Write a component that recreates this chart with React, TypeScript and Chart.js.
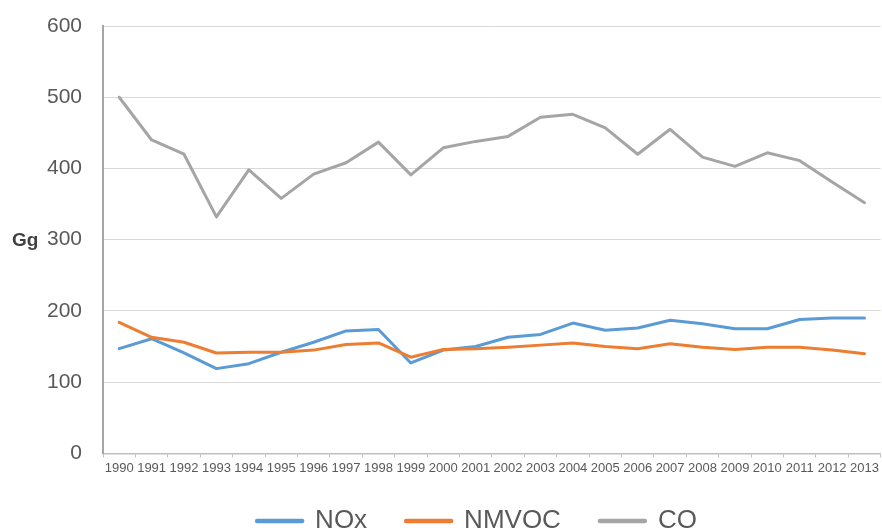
import React, { useEffect, useRef } from "react";
import { Chart, registerables } from "chart.js";

Chart.register(...registerables);

const years = [
  "1990", "1991", "1992", "1993", "1994", "1995", "1996", "1997", "1998", "1999", "2000", "2001",
  "2002", "2003", "2004", "2005", "2006", "2007", "2008", "2009", "2010", "2011", "2012", "2013",
];
const noxValues = [147, 161, 141, 119, 126, 142, 156, 172, 174, 127, 145, 150, 163, 167, 183, 173, 176, 187, 182, 175, 175, 188, 190, 190];
const nmvocValues = [184, 163, 156, 141, 142, 142, 145, 153, 155, 135, 146, 147, 149, 152, 155, 150, 147, 154, 149, 146, 149, 149, 145, 140];
const coValues = [500, 440, 420, 332, 398, 358, 392, 408, 437, 391, 429, 438, 445, 472, 476, 457, 420, 455, 416, 403, 422, 411, 381, 352];
const yTicks = [0, 100, 200, 300, 400, 500, 600];
const unitLabel = "Gg";

const FONT = '"Liberation Sans", Arial, Helvetica, sans-serif';

const unitPlugin = {
  id: "unitLabel",
  afterLayout(chart: any) {
    // legend in the original is centred a little right of the canvas centre and sits close to the axis
    const lg = chart.legend;
    if (lg) {
      lg.left = 72;
      lg.top -= 10;
    }
  },
  afterDraw(chart: any) {
    const ctx = chart.ctx;
    const y = chart.scales.y.getPixelForValue(300);
    ctx.save();
    ctx.font = `bold 19px ${FONT}`;
    ctx.fillStyle = "#404040";
    ctx.textAlign = "left";
    ctx.textBaseline = "middle";
    ctx.fillText(unitLabel, 12, y + 1);
    ctx.restore();
  },
};

export default function App() {
  const ref = useRef<HTMLCanvasElement | null>(null);

  useEffect(() => {
    if (!ref.current) return;
    Chart.defaults.font.family = FONT;
    const mk = (label: string, data: number[], color: string, order: number) => ({
      label,
      data,
      borderColor: color,
      backgroundColor: color,
      borderWidth: 3,
      borderCapStyle: "round" as const,
      borderJoinStyle: "round" as const,
      pointRadius: 0,
      pointHoverRadius: 0,
      tension: 0,
      fill: false,
      order,
      pointStyle: "line" as const,
    });
    const chart = new Chart(ref.current, {
      type: "line",
      data: {
        labels: years,
        datasets: [
          mk("NOx", noxValues, "#5B9BD5", 3),
          mk("NMVOC", nmvocValues, "#ED7D31", 2),
          mk("CO", coValues, "#A5A5A5", 1),
        ],
      },
      options: {
        responsive: false,
        animation: false,
        layout: { padding: { left: 0, right: 0, top: 26, bottom: 0 } },
        plugins: {
          tooltip: { enabled: false },
          legend: {
            position: "bottom",
            maxHeight: 52,
            labels: {
              usePointStyle: true,
              pointStyleWidth: 45,
              padding: 39,
              color: "#595959",
              font: { size: 26 },
              sort: (a: any, b: any) => a.datasetIndex - b.datasetIndex,
              generateLabels: (c: any) => {
                const items = Chart.defaults.plugins.legend.labels.generateLabels(c);
                return items.map((it: any) => ({ ...it, lineWidth: 4.5, lineCap: "round", pointStyle: "line" }));
              },
            },
          },
        },
        scales: {
          x: {
            offset: true,
            grid: {
              offset: true,
              drawOnChartArea: false,
              drawTicks: true,
              tickLength: 4,
              color: "#BFBFBF",
            },
            border: { color: "#BFBFBF", width: 1.5 },
            ticks: {
              font: { size: 13 },
              color: "#595959",
              padding: 3,
              maxRotation: 0,
              minRotation: 0,
              autoSkip: false,
            },
          },
          y: {
            min: 0,
            max: 600,
            afterBuildTicks: (scale: any) => {
              scale.ticks = yTicks.map((v) => ({ value: v }));
            },
            afterFit: (scale: any) => {
              scale.width = 103;
            },
            grid: {
              color: "#D9D9D9",
              drawTicks: true,
              tickLength: 19,
              tickColor: "rgba(0,0,0,0)",
              lineWidth: 1,
            },
            border: { color: "#A6A6A6", width: 2 },
            ticks: {
              font: { size: 21 },
              color: "#595959",
              padding: 2,
            },
          },
        },
      },
      plugins: [unitPlugin],
    });
    return () => chart.destroy();
  }, []);

  return (
    <div style={{ position: "fixed", left: 0, top: 0, width: 882, height: 531, background: "#fff" }}>
      <canvas ref={ref} width={882} height={531} style={{ display: "block" }} />
    </div>
  );
}
